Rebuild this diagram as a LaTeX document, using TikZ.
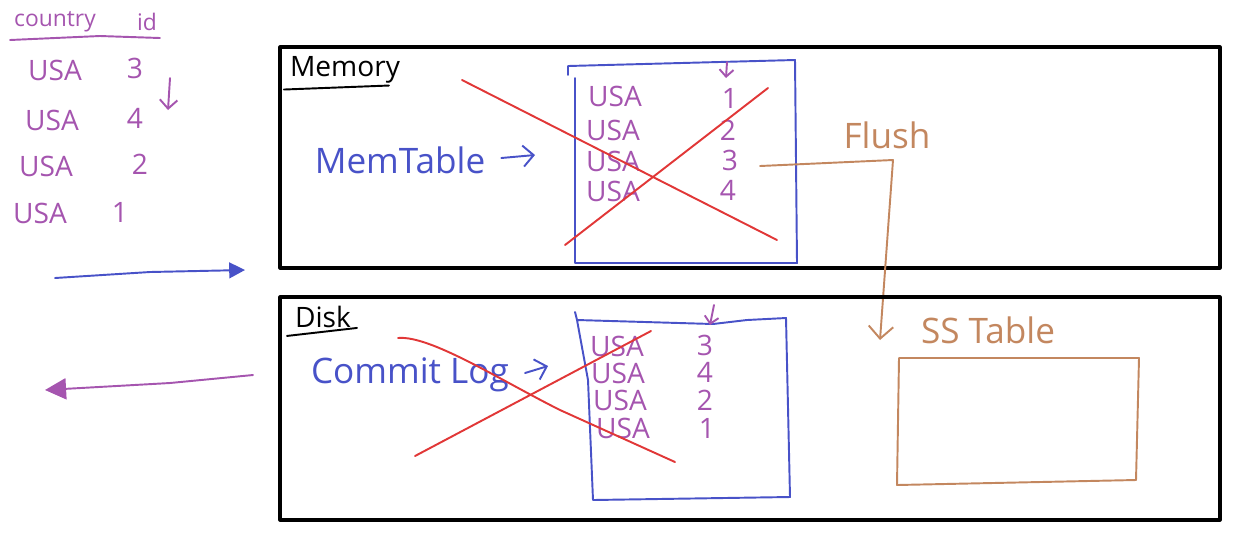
\documentclass[tikz,border=0pt]{standalone}
\usepackage{fontspec}
\setmainfont{Open Sans}
\usetikzlibrary{positioning,arrows.meta}

\definecolor{penblue}{RGB}{72,82,200}
\definecolor{penpurple}{RGB}{165,85,175}
\definecolor{penred}{RGB}{225,55,55}
\definecolor{penbrown}{RGB}{195,135,95}

\begin{document}
\begin{tikzpicture}[x=0.02cm,y=-0.02cm,line cap=round,line join=round]
  \tikzstyle{hand}=[inner sep=1pt,font=\fontsize{16}{16}\selectfont]
  \tikzstyle{big}=[inner sep=1pt,font=\fontsize{20}{20}\selectfont]
  \tikzstyle{row}=[hand,text=penpurple]
  \tikzstyle{frame}=[draw=black,line width=1.8pt]
  \tikzstyle{pen}=[line width=1.1pt]
  \tikzstyle{cross}=[pen,draw=penred]
  \useasboundingbox (0,0) rectangle (1250,539);

  % input table on the left
  \node[row,font=\fontsize{13}{13}\selectfont] (country) at (55,22) {country};
  \node[row,font=\fontsize{13}{13}\selectfont] (id) at (147,22) {id};
  \draw[pen,penpurple] (10,40) -- (100,36) -- (160,38);
  \node[row] (u1) at (55,70)  {USA};  \node[row] (i1) at (135,68)  {3};
  \node[row] (u2) at (52,120) {USA};  \node[row] (i2) at (135,118) {4};
  \node[row] (u3) at (46,166) {USA};  \node[row] (i3) at (140,164) {2};
  \node[row] (u4) at (40,213) {USA};  \node[row] (i4) at (120,212) {1};
  \coordinate (ordtop) at (170,78);
  \coordinate (ordbot) at (168,110);
  \draw[pen,penpurple,-{Straight Barb[length=5pt]}] (ordtop) -- (ordbot);

  % write in / read out
  \coordinate (inA) at (55,278);
  \coordinate (inB) at (245,270);
  \draw[pen,penblue,-{Triangle[length=9pt,width=9pt]}] (inA) -- (150,272) -- (inB);
  \coordinate (outA) at (253,375);
  \coordinate (outB) at (45,390);
  \draw[pen,penpurple,-{Triangle[length=12pt,width=12pt]}] (outA) -- (170,383) -- (outB);

  % Memory
  \draw[frame] (280,47) rectangle (1220,268);
  \node[hand] (memory) at (345,70) {Memory};
  \draw[pen] (memory.south west) ++(-4,4) -- ++(105,-4);
  \draw[pen,penblue] (568,75) -- (568,66) -- (795,60) -- (797,263) -- (575,263) -- (575,78);
  \node[row] (m1) at (615,96)  {USA};  \node[row] (n1) at (730,98)  {1};
  \node[row] (m2) at (613,130) {USA};  \node[row] (n2) at (728,130) {2};
  \node[row] (m3) at (613,161) {USA};  \node[row] (n3) at (730,160) {3};
  \node[row] (m4) at (613,191) {USA};  \node[row] (n4) at (728,190) {4};
  \coordinate (mdA) at (727,62);
  \coordinate (mdB) at (726,78);
  \draw[pen,penpurple,-{Straight Barb[length=4pt]}] (mdA) -- (mdB);
  \node[big,text=penblue] (memtable) at (400,160) {MemTable};
  \coordinate (mtarr) at (535,155);
  \draw[pen,penblue,-{Straight Barb[length=6pt]}] (memtable.east) ++(14,-2) -- (mtarr);
  \draw[cross] (462,80) -- (777,240);
  \draw[cross] (565,245) -- (768,88);

  % Flush
  \node[big,text=penbrown] (flush) at (887,135) {Flush};
  \coordinate (flc) at (893,160);
  \coordinate (fle) at (880,340);
  \draw[pen,penbrown,-{Straight Barb[length=7pt]}] (n3.east) ++(20,6) -- (flc) -- (fle);

  % Disk
  \draw[frame] (280,297) rectangle (1220,520);
  \node[hand] (disk) at (323,317) {Disk};
  \draw[pen] (disk.south west) ++(-6,6) -- ++(70,-8);
  \draw[pen,penblue] (575,312) -- (577,320) -- (713,324) -- (747,320) -- (786,318)
    -- (790,497) -- (593,500) -- (588,380) -- (577,320);
  \node[row] (c1) at (617,346) {USA};  \node[row] (k1) at (705,345) {3};
  \node[row] (c2) at (618,373) {USA};  \node[row] (k2) at (705,372) {4};
  \node[row] (c3) at (620,400) {USA};  \node[row] (k3) at (705,400) {2};
  \node[row] (c4) at (623,428) {USA};  \node[row] (k4) at (707,428) {1};
  \coordinate (cdA) at (714,305);
  \coordinate (cdB) at (710,325);
  \draw[pen,penpurple,-{Straight Barb[length=4pt]}] (cdA) -- (cdB);
  \node[big,text=penblue] (commitlog) at (410,375) {Commit Log};
  \coordinate (clarr) at (548,366);
  \draw[pen,penblue,-{Straight Barb[length=6pt]}] (commitlog.east) ++(14,-2) -- (clarr);
  \draw[cross] (398,338) .. controls (430,335) and (500,380) .. (560,410) -- (675,462);
  \draw[cross] (415,456) -- (651,331);

  % SSTable
  \node[big,text=penbrown] (sstable) at (988,330) {SS Table};
  \draw[pen,penbrown] (899,358) -- (1139,358) -- (1136,480) -- (897,485) -- cycle;
\end{tikzpicture}
\end{document}
